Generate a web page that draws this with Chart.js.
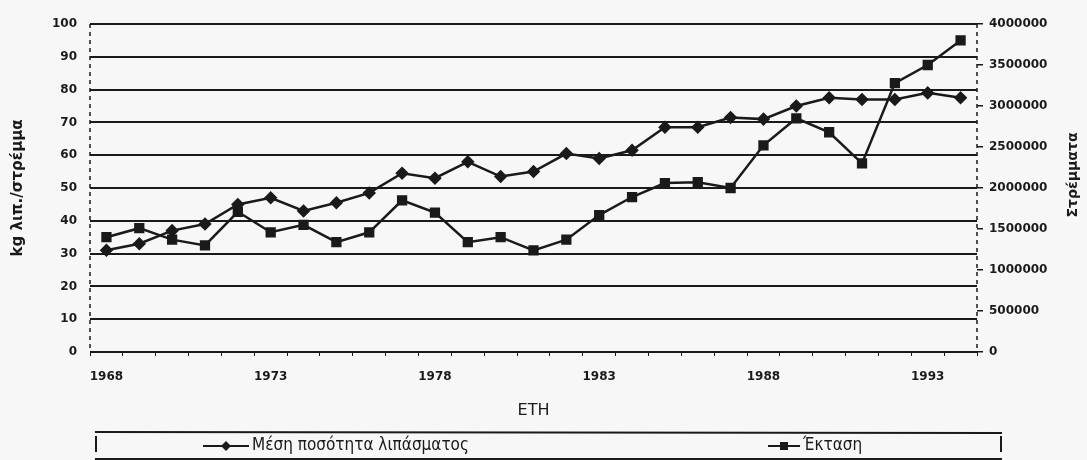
<!DOCTYPE html>
<html>
<head>
<meta charset="utf-8">
<script src="https://cdn.jsdelivr.net/npm/chart.js@4/dist/chart.umd.min.js"></script>
<style>
  body { margin: 0; background: #f7f7f7; }
  #wrap { width: 1087px; height: 460px; }
</style>
</head>
<body>
<div id="wrap"><canvas id="myChart" width="1087" height="460"></canvas></div>
<script>
// years on the x axis
const years = [1968, 1969, 1970, 1971, 1972, 1973, 1974, 1975, 1976, 1977, 1978, 1979, 1980, 1981,
  1982, 1983, 1984, 1985, 1986, 1987, 1988, 1989, 1990, 1991, 1992, 1993, 1994];
// kg fertiliser per stremma (left axis)
const fertiliser = [31, 33, 37, 39, 45, 47, 43, 45.5, 48.5, 54.5, 53, 58, 53.5, 55,
  60.5, 59, 61.5, 68.5, 68.5, 71.5, 71, 75, 77.5, 77, 77, 79, 77.5];
// area in stremmata (right axis)
const area = [1400000, 1510000, 1370000, 1300000, 1710000, 1460000, 1550000, 1340000, 1460000, 1850000,
  1700000, 1340000, 1400000, 1240000, 1370000, 1670000, 1890000, 2060000, 2070000, 2000000,
  2520000, 2850000, 2680000, 2300000, 3280000, 3500000, 3800000];
const shownYears = [1968, 1973, 1978, 1983, 1988, 1993];
const seriesNames = ['Μέση ποσότητα λιπάσματος', 'Έκταση'];
const rightTitle = 'Στρέμματα';

const ink = '#1a1a1a';
const tickFont = { family: 'DejaVu Sans', size: 12, weight: 'bold' };

// dashed axis lines, right axis title and the boxed legend
const extras = {
  id: 'extras',
  beforeDatasetsDraw(chart) {
    const c = chart.ctx, a = chart.chartArea;
    c.save();
    c.strokeStyle = ink;
    c.lineWidth = 1.5;
    c.setLineDash([4, 4]);
    c.beginPath();
    c.moveTo(a.left, a.top); c.lineTo(a.left, a.bottom);
    c.moveTo(a.right, a.top); c.lineTo(a.right, a.bottom);
    c.stroke();
    c.restore();
  },
  afterDraw(chart) {
    const c = chart.ctx;
    c.save();
    c.fillStyle = ink;
    c.font = 'bold 14px "DejaVu Sans", sans-serif';
    c.textAlign = 'center';
    c.textBaseline = 'middle';
    c.translate(1073, 175);
    c.rotate(-Math.PI / 2);
    c.fillText(rightTitle, 0, 0);
    c.restore();

    c.save();
    c.strokeStyle = ink;
    c.fillStyle = ink;
    c.lineWidth = 2;
    c.beginPath();
    c.moveTo(95, 432); c.lineTo(1002, 433);
    c.moveTo(95, 459); c.lineTo(1002, 459);
    c.moveTo(96, 436); c.lineTo(96, 452);
    c.moveTo(1001, 436); c.lineTo(1001, 452);
    c.stroke();
    const items = [
      { x0: 203, x1: 249, style: 'diamond', name: seriesNames[0] },
      { x0: 768, x1: 800, style: 'square', name: seriesNames[1] }
    ];
    c.font = '17px "DejaVu Sans Condensed", "DejaVu Sans", sans-serif';
    c.textBaseline = 'middle';
    items.forEach(it => {
      const y = 446;
      c.beginPath();
      c.moveTo(it.x0, y); c.lineTo(it.x1, y);
      c.stroke();
      const m = (it.x0 + it.x1) / 2;
      c.beginPath();
      if (it.style === 'diamond') {
        c.moveTo(m, y - 5); c.lineTo(m + 5, y); c.lineTo(m, y + 5); c.lineTo(m - 5, y);
      } else {
        c.rect(m - 4, y - 4, 8, 8);
      }
      c.fill();
      c.fillText(it.name, it.x1 + 3, y);
    });
    c.restore();
  }
};

const ctx = document.getElementById('myChart').getContext('2d');
const chart = new Chart(ctx, {
  type: 'line',
  data: {
    labels: years,
    datasets: [{
      label: seriesNames[0],
      data: fertiliser,
      yAxisID: 'y',
      borderColor: ink,
      backgroundColor: ink,
      borderWidth: 2.5,
      pointStyle: 'rectRot',
      pointRadius: 5,
      tension: 0
    }, {
      label: seriesNames[1],
      data: area,
      yAxisID: 'y1',
      borderColor: ink,
      backgroundColor: ink,
      borderWidth: 2.5,
      pointStyle: 'rect',
      pointRadius: 5.5,
      tension: 0
    }]
  },
  options: {
    responsive: false,
    animation: false,
    layout: { padding: { left: 0, right: 0, top: 24, bottom: 0 } },
    plugins: {
      legend: { display: false },
      tooltip: { enabled: false }
    },
    scales: {
      x: {
        offset: true,
        afterFit: s => { s.height = 108; },
        grid: { drawOnChartArea: false, offset: true, color: ink, tickLength: 4, lineWidth: 1 },
        border: { display: false },
        ticks: {
          autoSkip: false,
          maxRotation: 0,
          color: ink,
          font: tickFont,
          padding: 14,
          callback: function (val, i) {
            const yr = years[i];
            return shownYears.includes(yr) ? String(yr) : '';
          }
        },
        title: {
          display: true,
          text: 'ETH',
          color: ink,
          font: { family: 'DejaVu Sans', size: 16 },
          padding: { top: 0, bottom: 40 }
        }
      },
      y: {
        position: 'left',
        min: 0,
        max: 100,
        afterFit: s => { s.width = 90; },
        ticks: { stepSize: 10, color: ink, font: tickFont, padding: 13 },
        grid: { color: ink, lineWidth: 2, drawTicks: false },
        border: { display: false },
        title: {
          display: true,
          text: 'kg λιπ./στρέμμα',
          color: ink,
          font: { family: 'DejaVu Sans', size: 15, weight: 'bold' },
          padding: { top: 9, bottom: 0 }
        }
      },
      y1: {
        position: 'right',
        min: 0,
        max: 4000000,
        afterFit: s => { s.width = 110; },
        ticks: {
          stepSize: 500000,
          color: ink,
          font: tickFont,
          padding: 6,
          callback: v => String(v)
        },
        grid: { drawOnChartArea: false, color: ink, tickLength: 6, lineWidth: 1.5 },
        border: { display: false }
      }
    }
  },
  plugins: [extras]
});
</script>
</body>
</html>
